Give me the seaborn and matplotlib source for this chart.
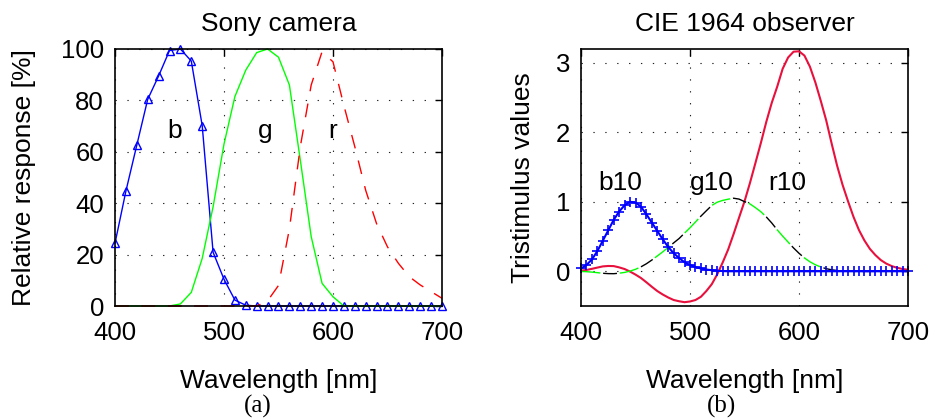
import numpy as np
import pandas as pd
import matplotlib
matplotlib.use("Agg")
import matplotlib.pyplot as plt
import seaborn as sns

# ---------------- data ----------------
# (a) Sony camera, 10 nm steps
wl_cam = list(range(400, 701, 10))
cam_b = [24.4, 44.7, 62.6, 80.4, 89.5, 99.4, 100, 95.3, 70.2, 20.9, 10.4, 2.3, 0.3,
         0, 0, 0, 0, 0, 0, 0, 0, 0, 0, 0, 0, 0, 0, 0, 0, 0, 0]
cam_g = [0, 0, 0, 0, 0, 0, 0.8, 5.3, 18.5, 38.6, 63, 81.5, 91.8, 98.6, 100, 96.8,
         86, 56.8, 27, 8.8, 3.6, 0, 0, 0, 0, 0, 0, 0, 0, 0, 0]
cam_r = [0, 0, 0, 0, 0, 0, 0, 0, 0, 0, 0, 0, 0, 0, 2, 8, 30, 62, 86, 99, 95, 78,
         62, 45, 32, 23, 16.6, 11.4, 8.2, 5.6, 3]

# (b) CIE 1964 observer, 5 nm steps
wl_cie = list(range(400, 701, 5))
r10 = [0.0089, 0.0188, 0.0350, 0.0531, 0.0702, 0.0763, 0.0745, 0.0561, 0.0323, -0.0044,
       -0.0478, -0.0970, -0.1586, -0.2235, -0.2848, -0.3346, -0.3776, -0.4136, -0.4317, -0.4452,
       -0.4350, -0.4140, -0.3673, -0.2845, -0.1855, -0.0435, 0.1270, 0.3129, 0.5362, 0.7722,
       1.0059, 1.2710, 1.5574, 1.8465, 2.1511, 2.4250, 2.6574, 2.9151, 3.0779, 3.1613,
       3.1673, 3.1048, 2.9462, 2.7194, 2.4526, 2.1700, 1.8358, 1.5179, 1.2428, 1.0070,
       0.7835, 0.5935, 0.4439, 0.3230, 0.2342, 0.1619, 0.1110, 0.0749, 0.0500, 0.0330,
       0.0214]
g10 = [-0.0025, -0.0059, -0.0119, -0.0201, -0.0289, -0.0338, -0.0349, -0.0276, -0.0169, 0.0024,
       0.0283, 0.0636, 0.1082, 0.1617, 0.2201, 0.2796, 0.3428, 0.4086, 0.4716, 0.5491,
       0.6260, 0.7092, 0.7935, 0.8715, 0.9477, 0.9945, 1.0203, 1.0375, 1.0517, 1.0390,
       1.0029, 0.9698, 0.9162, 0.8571, 0.7823, 0.6953, 0.5966, 0.5063, 0.4203, 0.3360,
       0.2591, 0.1917, 0.1367, 0.0938, 0.0611, 0.0371, 0.0215, 0.0112, 0.0044, 0.0001,
       -0.0014, -0.0020, -0.0022, -0.0020, -0.0016, -0.0012, -0.0009, -0.0006, -0.0004, -0.0003,
       -0.0002]
b10 = [0.04, 0.09, 0.17, 0.29, 0.44, 0.59, 0.74, 0.86, 0.95, 1.00,
       0.99, 0.93, 0.82, 0.70, 0.58, 0.46, 0.35, 0.26, 0.19, 0.13,
       0.09, 0.06, 0.04, 0.025, 0.015, 0.008, 0.003] + [0] * 34

xticks = [400, 500, 600, 700]
yticks_a = [0, 20, 40, 60, 80, 100]
yticks_b = [0, 1, 2, 3]

# ---------------- style ----------------
sns.set_theme(style="white")
plt.rcParams['font.family'] = ['Liberation Sans', 'DejaVu Sans']
plt.rcParams['axes.edgecolor'] = 'black'
plt.rcParams['axes.linewidth'] = 1.0
plt.rcParams['text.color'] = 'black'
plt.rcParams['axes.labelcolor'] = 'black'

fig = plt.figure(figsize=(9.35, 4.18), dpi=100)
W, H = 935, 418
axA = fig.add_axes([115 / W, (H - 306) / H, 327 / W, 257 / H])
axB = fig.add_axes([581 / W, (H - 306) / H, 327 / W, 257 / H])

df_cam = pd.DataFrame({'wl': wl_cam, 'b': cam_b, 'g': cam_g, 'r': cam_r})
df_cie = pd.DataFrame({'wl': wl_cie, 'r10': r10, 'g10': g10, 'b10': b10})

# (a)
sns.lineplot(data=df_cam, x='wl', y='b', ax=axA, color='#0000ff', lw=1.0,
             marker='^', markersize=6, markerfacecolor='none', markeredgecolor='#0000ff',
             markeredgewidth=1.0, clip_on=False)
sns.lineplot(data=df_cam, x='wl', y='g', ax=axA, color='#00ff00', lw=1.0, clip_on=False)
sns.lineplot(data=df_cam, x='wl', y='r', ax=axA, color='#ff0000', lw=1.0,
             linestyle=(0, (10, 9)), clip_on=False)

# (b)
sns.lineplot(data=df_cie, x='wl', y='r10', ax=axB, color='#e8103c', lw=1.5, clip_on=False)
sns.lineplot(data=df_cie, x='wl', y='g10', ax=axB, color='black', lw=1.0,
             linestyle=(12, (10, 18)), clip_on=False)
sns.lineplot(data=df_cie, x='wl', y='g10', ax=axB, color='#00ff00', lw=1.0,
             linestyle=(0, (14, 14)), clip_on=False)
sns.lineplot(data=df_cie, x='wl', y='b10', ax=axB, color='#0000ff', lw=1.5,
             marker='+', markersize=7, markeredgewidth=1.2, markeredgecolor='#0000ff',
             clip_on=False)

for ax in (axA, axB):
    ax.set_xlim(400, 700)
    ax.set_xticks(xticks)
    ax.tick_params(direction='in', top=True, right=True, length=5, width=1.0,
                   labelsize=18.5, pad=8, colors='black')
    ax.tick_params(axis='x', pad=11)
    ax.grid(True, color='#222222', linestyle=(0, (1.2, 9.5)), linewidth=0.8)
    for s in ax.spines.values():
        s.set_color('black')
        s.set_linewidth(1.2)
    ax.set_xlabel('Wavelength [nm]', fontsize=19, labelpad=17, color='black')

axA.set_ylim(0, 100)
axA.set_yticks(yticks_a)
axA.set_ylabel('Relative response [%]', fontsize=19, labelpad=18, color='black')
axA.set_title('Sony camera', fontsize=19, pad=13, color='black')
axA.text(455, 68, 'b', fontsize=19, ha='center', va='center')
axA.text(538, 68, 'g', fontsize=19, ha='center', va='center')
axA.text(600, 68, 'r', fontsize=19, ha='center', va='center')

axB.set_ylim(-0.5, 3.2)
axB.set_yticks(yticks_b)
axB.set_ylabel('Tristimulus values', fontsize=19, labelpad=15, color='black')
axB.set_title('CIE 1964 observer', fontsize=19, pad=13, color='black')
axB.text(436, 1.27, 'b10', fontsize=19, ha='center', va='center')
axB.text(520, 1.27, 'g10', fontsize=19, ha='center', va='center')
axB.text(589, 1.27, 'r10', fontsize=19, ha='center', va='center')

fig.text(258 / W, 1 - 406 / H, '(a)', fontsize=18, ha='center', va='center',
         family=['Liberation Serif', 'DejaVu Serif'])
fig.text(722 / W, 1 - 406 / H, '(b)', fontsize=18, ha='center', va='center',
         family=['Liberation Serif', 'DejaVu Serif'])

fig.savefig('out.png', dpi=100)
